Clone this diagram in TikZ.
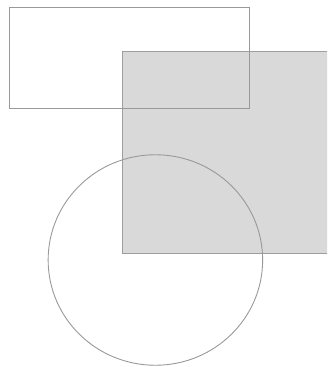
\documentclass[tikz,border=0pt]{standalone}
\usetikzlibrary{shapes.geometric}
\begin{document}
\begin{tikzpicture}[x=1pt,y=-1pt,
  shapeline/.style={draw=black!40,line width=0.9pt},
  grayfill/.style={fill=black!15,draw=black!38,line width=0.9pt}]
\useasboundingbox (0,0) rectangle (327,367);
\clip (0,0) rectangle (327,367);
\path[grayfill] (122,51) rectangle (340,253);
\node[shapeline,rectangle,minimum width=240pt,minimum height=101pt,inner sep=0pt,anchor=north west] (box) at (9,7) {};
\node[shapeline,ellipse,minimum width=214.5pt,minimum height=210.5pt,inner sep=0pt] (circ) at (155.4,260) {};
\end{tikzpicture}
\end{document}
